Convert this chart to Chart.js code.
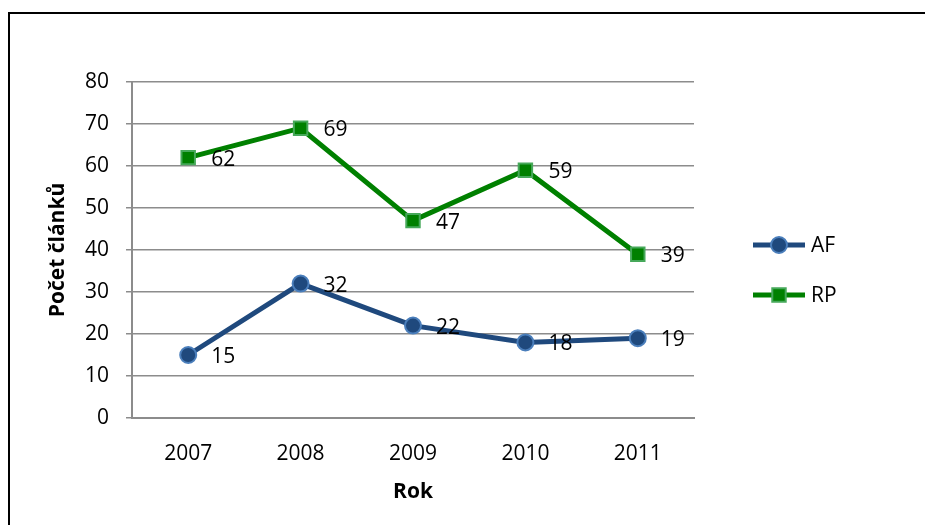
<!DOCTYPE html>
<html>
<head>
<meta charset="utf-8">
<script src="https://cdn.jsdelivr.net/npm/chart.js@4/dist/chart.umd.min.js"></script>
<style>
  html, body { margin: 0; padding: 0; background: #ffffff; }
  #wrap { width: 925px; height: 525px; position: relative; }
</style>
</head>
<body>
<div id="wrap"><canvas id="c" width="925" height="525"></canvas></div>
<script>
// Počet článků podle roku
const years = ['2007', '2008', '2009', '2010', '2011'];
const afValues = [15, 32, 22, 18, 19];
const rpValues = [62, 69, 47, 59, 39];
const seriesNames = ['AF', 'RP'];
const yTitle = 'Počet článků';
const xTitle = 'Rok';

const FONT = '"Open Sans", "Noto Sans", sans-serif';
const FS = 21;

// White page with the frame lines along the top and left edge
const framePlugin = {
  id: 'frame',
  beforeDraw(chart) {
    const ctx = chart.ctx;
    ctx.save();
    ctx.fillStyle = '#ffffff';
    ctx.fillRect(0, 0, chart.width, chart.height);
    ctx.strokeStyle = '#000000';
    ctx.lineWidth = 2;
    ctx.beginPath();
    ctx.moveTo(9, chart.height);
    ctx.lineTo(9, 13);
    ctx.lineTo(chart.width, 13);
    ctx.stroke();
    ctx.restore();
  }
};

// Value written to the right of each point
const valueLabels = {
  id: 'valueLabels',
  afterDatasetsDraw(chart) {
    const ctx = chart.ctx;
    ctx.save();
    ctx.font = FS + 'px ' + FONT;
    ctx.fillStyle = '#000000';
    ctx.textAlign = 'left';
    ctx.textBaseline = 'middle';
    chart.data.datasets.forEach((ds, i) => {
      const meta = chart.getDatasetMeta(i);
      meta.data.forEach((pt, j) => {
        ctx.fillText(String(ds.data[j]), pt.x + 23, pt.y + 2);
      });
    });
    ctx.restore();
  }
};

// Legend on the right: line sample with the series marker, then the name
const sideLegend = {
  id: 'sideLegend',
  afterDraw(chart) {
    const ctx = chart.ctx;
    const cx = 779, startY = 245, step = 50;
    ctx.save();
    chart.data.datasets.forEach((ds, i) => {
      const y = startY + i * step;
      ctx.strokeStyle = ds.borderColor;
      ctx.lineWidth = ds.borderWidth;
      ctx.beginPath();
      ctx.moveTo(cx - 26, y);
      ctx.lineTo(cx + 26, y);
      ctx.stroke();
      ctx.fillStyle = ds.pointBackgroundColor;
      ctx.strokeStyle = ds.pointBorderColor;
      ctx.lineWidth = ds.pointBorderWidth;
      Chart.helpers.drawPoint(ctx, {
        pointStyle: ds.pointStyle,
        radius: ds.pointRadius,
        rotation: 0,
        borderWidth: ds.pointBorderWidth
      }, cx, y);
      ctx.fillStyle = '#000000';
      ctx.font = FS + 'px ' + FONT;
      ctx.textAlign = 'left';
      ctx.textBaseline = 'middle';
      ctx.fillText(ds.label, cx + 32, y + 1);
    });
    ctx.restore();
  }
};

new Chart(document.getElementById('c'), {
  type: 'line',
  data: {
    labels: years,
    datasets: [
      {
        label: seriesNames[0],
        data: afValues,
        borderColor: '#1F497D',
        borderWidth: 5,
        pointStyle: 'circle',
        pointRadius: 8,
        pointHoverRadius: 8,
        pointBackgroundColor: '#1F497D',
        pointBorderColor: '#4A7EBB',
        pointBorderWidth: 2,
        tension: 0
      },
      {
        label: seriesNames[1],
        data: rpValues,
        borderColor: '#008000',
        borderWidth: 5,
        pointStyle: 'rect',
        pointRadius: 9.5,
        pointHoverRadius: 9.5,
        pointBackgroundColor: '#008000',
        pointBorderColor: '#46A85A',
        pointBorderWidth: 2,
        tension: 0
      }
    ]
  },
  options: {
    responsive: false,
    animation: false,
    events: [],
    layout: { padding: { left: 0, right: 231, top: 82, bottom: 0 } },
    plugins: {
      legend: { display: false },
      tooltip: { enabled: false }
    },
    scales: {
      x: {
        offset: true,
        afterFit(scale) { scale.height = 107; },
        grid: { display: false, drawTicks: false },
        border: { display: true, color: '#8C8C8C', width: 2 },
        ticks: { color: '#000000', font: { family: FONT, size: FS }, padding: 23, maxRotation: 0 },
        title: {
          display: true, text: xTitle, color: '#000000',
          font: { family: FONT, size: FS, weight: 'bold', lineHeight: 1.2 },
          padding: { top: 0, bottom: 20 }
        }
      },
      y: {
        min: 0, max: 80,
        afterFit(scale) { scale.width = 132; },
        grid: { color: '#8C8C8C', lineWidth: 1.5, tickLength: 6, drawTicks: true },
        border: { display: true, color: '#8C8C8C', width: 2 },
        ticks: { stepSize: 10, color: '#000000', font: { family: FONT, size: FS }, padding: 17 },
        title: {
          display: true, text: yTitle, color: '#000000',
          font: { family: FONT, size: FS, weight: 'bold', lineHeight: 1.2 },
          padding: { top: 45, bottom: 0 }
        }
      }
    }
  },
  plugins: [framePlugin, valueLabels, sideLegend]
});
</script>
</body>
</html>
